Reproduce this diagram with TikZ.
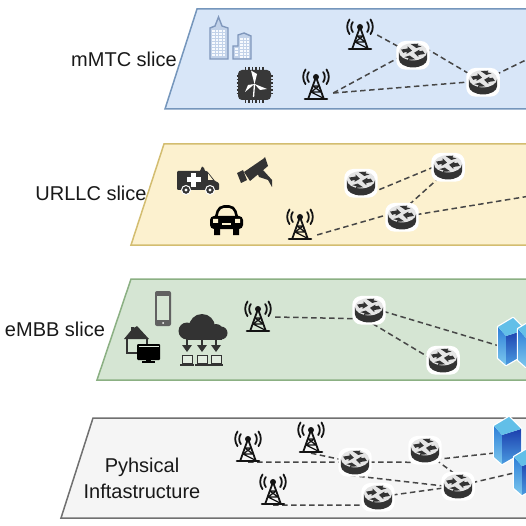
\documentclass[tikz,border=0pt]{standalone}
\usepackage{fontspec}
\setmainfont{Liberation Sans}
\begin{document}
\definecolor{icondark}{HTML}{333333}
\definecolor{steel}{HTML}{7F97BC}
\definecolor{bluebg}{HTML}{D8E6F8}
\definecolor{blueln}{HTML}{7596BC}
\definecolor{yelbg}{HTML}{FCF1CF}
\definecolor{yelln}{HTML}{D3BD70}
\definecolor{grnbg}{HTML}{D5E5D3}
\definecolor{grnln}{HTML}{8BB083}
\definecolor{gryln}{HTML}{707070}
\definecolor{srvA}{HTML}{7CC8EE}
\definecolor{srvB}{HTML}{2F7FD8}
\definecolor{srvC}{HTML}{4A9BE0}
\definecolor{srvD}{HTML}{1C3FAE}
\definecolor{srvE}{HTML}{62BFE8}
\tikzset{
  slab/.style={line width=1.5pt},
  label/.style={font=\fontsize{20}{26}\selectfont,align=center,inner sep=0pt,text=black!90},
  hub/.style={circle,minimum size=28pt,inner sep=0pt},
  mast/.style={rectangle,minimum width=34pt,minimum height=30pt,inner sep=0pt},
  rack/.style={rectangle,minimum width=28pt,minimum height=47pt,inner sep=0pt},
  tie/.style={line width=1.5pt,dash pattern=on 5.5pt off 3.5pt,draw=black!72},
  pics/routerpic/.style={code={
    \begin{scope}[scale=1.08]
    \fill[white,rounded corners=9pt] (-15.5,-13) rectangle (15.5,13.5);
    \fill[icondark] (-13,-3) -- (-13,4) arc[start angle=180,end angle=0,x radius=13,y radius=7.5] -- (13,-3) -- cycle;
    \fill[black!10] (0,-3) ellipse[x radius=13,y radius=8];
    \fill[icondark] (-11,-5) -- (-5,-6) -- (-5,-8) -- (-1,-4) -- (-6,-1) -- (-6,-3) -- (-9,-2) -- cycle;
    \fill[icondark] (11,-1) -- (5,0) -- (5,2) -- (1,-2) -- (6,-5) -- (6,-3.5) -- (9,-4) -- cycle;
    \fill[icondark] (-2,-10) -- (5,-10.5) -- (4,-9) -- (8,-8) -- (3,-6.5) -- (1,-8) -- cycle;
    \fill[icondark] (2,4) -- (-5,4.5) -- (-4,3) -- (-8,2) -- (-3,.5) -- (-1,2) -- cycle;
    \end{scope}
  }},
  pics/towerpic/.style={code={
    \begin{scope}[line width=1.8pt,black!92,line cap=round]
    \draw (0,-8) -- (-7.5,13) (0,-8) -- (7.5,13);
    \draw[line width=1.3pt] (-3,1) -- (3,1) (-5,7) -- (5,7) (-3,1) -- (5,7) (3,1) -- (-5,7) (-5,7) -- (7,13);
    \draw[line width=2.6pt] (-11,14) -- (11,14);
    \fill (0,-8) circle[radius=3];
    \draw (-7.2,-13) arc[start angle=-145,end angle=-215,radius=8.8];
    \draw (7.2,-13) arc[start angle=-35,end angle=35,radius=8.8];
    \draw (-10.5,-15.5) arc[start angle=-145,end angle=-215,radius=12.8];
    \draw (10.5,-15.5) arc[start angle=-35,end angle=35,radius=12.8];
    \end{scope}
  }},
  pics/serverpic/.style={code={
    \fill[white,line join=round,draw=white,line width=2.5pt] (-14,-16) -- (1,-25) -- (13,-13) -- (13,11) -- (-6,22) -- (-14,15) -- cycle;
    \shade[top color=srvB,bottom color=srvA] (-14,-16) -- (-6,-7) -- (-6,22) -- (-14,15) -- cycle;
    \shade[top color=srvD,bottom color=srvC] (-6,-7) -- (13,-13) -- (13,11) -- (-6,22) -- cycle;
    \fill[srvE] (-14,-16) -- (1,-25) -- (13,-13) -- (-6,-7) -- cycle;
  }}
}
\begin{tikzpicture}[x=1pt,y=-1pt]
\clip (0,0) rectangle (526,526);
\fill[white] (0,0) rectangle (526,526);
% slices
\draw[slab,draw=blueln,fill=bluebg] (197,9) -- (540,9) -- (540,109) -- (165,109) -- cycle;
\draw[slab,draw=yelln,fill=yelbg] (164,144) -- (540,144) -- (540,245) -- (131,245) -- cycle;
\draw[slab,draw=grnln,fill=grnbg] (131,279) -- (540,279) -- (540,380) -- (97,380) -- cycle;
\draw[slab,draw=gryln,fill=black!4] (93,418) -- (540,418) -- (540,518) -- (61,518) -- cycle;
% labels
\node[label] (mlab) at (124,59) {mMTC slice};
\node[label] (ulab) at (91,193) {URLLC slice};
\node[label] (elab) at (55,329) {eMBB slice};
\node[label] (plab) at (142,478) {Pyhsical\\Inftastructure};
% network nodes
\node[mast] (mt1) at (360,35) {};
\node[mast] (mt2) at (316,85) {};
\node[hub] (mr1) at (413,55) {};
\node[hub] (mr2) at (483,82) {};
\coordinate (mout) at (530,58);
\node[mast] (ut) at (300,225) {};
\node[hub] (ur1) at (361,183) {};
\node[hub] (ur2) at (448,167) {};
\node[hub] (ur3) at (402,217) {};
\coordinate (uout) at (530,196);
\node[mast] (et) at (258,317) {};
\node[hub] (er1) at (369,310) {};
\node[hub] (er2) at (443,360) {};
\node[rack] (es) at (512,343) {};
\node[mast] (pt1) at (248,447) {};
\node[mast] (pt2) at (311,438) {};
\node[mast] (pt3) at (273,490) {};
\node[hub] (pr1) at (355,462) {};
\node[hub] (pr2) at (425,450) {};
\node[hub] (pr3) at (458,486) {};
\node[hub] (pr4) at (378,497) {};
\node[rack] (ps1) at (508,442) {};
\node[rack] (ps2) at (528,473) {};
% connectors
\draw[tie] (mt1.east) -- (mr1.150);
\draw[tie] (mt2.-25) -- (mr1.190);
\draw[tie] (mt2.-25) -- (mr2.180);
\draw[tie] (mr1.30) -- (mr2);
\draw[tie] (mr2.30) -- (mout);
\draw[tie] (ur1.-45) -- (ur2.180);
\draw[tie] (ut.-30) -- (ur3.170);
\draw[tie] (ur3.60) -- (ur2.230);
\draw[tie] (ur3) -- (uout);
\draw[tie] (et.east) -- (er1.218);
\draw[tie] (er1.-5) -- (es.190);
\draw[tie] (er1.-75) -- (er2.170);
\draw[tie] (pt1.south) -- (pr1.180);
\draw[tie] (pt2.south) -- (pr1.170);
\draw[tie] (pr1) -- (pr2.240);
\draw[tie] (pr2.-42) -- (ps1.218);
\draw[tie] (pr1.-110) -- (pr3.180);
\draw[tie] (pr2.-42) -- (pr3.110);
\draw[tie] (pr3) -- (ps2.180);
\draw[tie] (pt3.south) -- (pr4.215);
\draw[tie] (pr4) -- (pr3);
% icons over connectors
\foreach \n in {mt1,mt2,ut,et,pt1,pt2,pt3} \pic at (\n) {towerpic};
\foreach \n in {mr1,mr2,ur1,ur2,ur3,er1,er2,pr1,pr2,pr3,pr4} \pic at (\n) {routerpic};
\pic at (512,343) {serverpic};
\pic at (532,345) {serverpic};
\pic at (ps1) {serverpic};
\pic at (ps2) {serverpic};
% buildings
\begin{scope}[draw=steel,fill=bluebg!75!steel,line width=1.4pt]
\filldraw (210,59) -- (210,28) -- (215,26) -- (218.5,17) -- (222,26) -- (228,28) -- (228,59) -- cycle;
\filldraw (233,59) -- (233,46) -- (238,46) -- (238,35) -- (244,33) -- (251,36) -- (251,59) -- cycle;
\foreach \y in {31,34,...,57} \draw[white!80!bluebg,line width=1.5pt,dash pattern=on 2.5pt off 1pt] (212,\y) -- (226,\y);
\foreach \y in {39,42,...,57} \draw[white!80!bluebg,line width=1.5pt,dash pattern=on 2.5pt off 1pt] (240,\y) -- (249,\y);
\foreach \y in {49,52,55} \draw[white!80!bluebg,line width=1.5pt,dash pattern=on 2.5pt off 1pt] (235,\y) -- (238,\y);
\end{scope}
% chip
\foreach \t in {-9,-5.5,...,9.5} {
  \draw[icondark,line width=1.1pt] (254.5+\t,67) -- (254.5+\t,103);
  \draw[icondark,line width=1.1pt] (236.5,85+\t) -- (272.5,85+\t);
}
\fill[black!78,rounded corners=4pt] (238,70) rectangle (271,100);
\draw[white,line width=1.3pt] (253.5,97) -- (254.5,84);
\fill[white] (254.5,84) -- (251,70.5) -- (257,74) -- cycle;
\fill[white] (254.5,84) -- (267,89) -- (260,90) -- cycle;
\fill[white] (254.5,84) -- (245,92) -- (248,85) -- cycle;
% ambulance
\fill[icondark,rounded corners=1pt] (177,171) -- (207,171) -- (215,181) -- (219,183) -- (219,190) -- (177,190) -- cycle;
\fill[icondark] (202,166.5) -- (204,168) -- (205,171) -- (200,171) -- cycle;
\fill[yelbg] (208,173.5) -- (208,180) -- (213,180) -- cycle;
\fill[white] (191,173) rectangle (196,187);
\fill[white] (186.5,177.5) rectangle (200.5,182.5);
\filldraw[fill=icondark,draw=white,line width=1pt] (186,190) circle[radius=4.5];
\filldraw[fill=icondark,draw=white,line width=1pt] (210,190) circle[radius=4.5];
\fill[white] (186,190) circle[radius=1.6] (210,190) circle[radius=1.6];
% camera
\fill[icondark] (244,172) -- (263,159) -- (265,157) -- (268,166) -- (250,181) -- cycle;
\fill[icondark] (237,173) -- (243,170) -- (247,180) -- (241,183) -- cycle;
\fill[icondark] (257,172) -- (263,170) -- (272,180) -- (272,187) -- (268,180) -- (259,177) -- cycle;
% car
\draw[black,line width=2.6pt,fill=yelbg,rounded corners=5pt] (215.5,219) -- (219,206.5) -- (234,206.5) -- (237.5,219);
\fill[black,rounded corners=4pt] (210,216) rectangle (243,229);
\fill[black] (214,228) rectangle (220,235) (233,228) rectangle (239,235);
\fill[yelbg] (213,219) rectangle (218,223) (235,219) rectangle (240,223);
\fill[yelbg] (222,223) rectangle (231,225);
% phone
\fill[black!62,rounded corners=2pt] (155,291) rectangle (171,326);
\fill[grnbg] (157,296) rectangle (169,320);
\fill[white] (163,323) circle[radius=1];
% home
\draw[icondark,line width=1.3pt,fill=grnbg] (127,338) -- (127,353) -- (147,353) -- (147,338);
\fill[icondark] (124,339) -- (131,330.5) -- (131,327) -- (134,327) -- (134,328) -- (137,326) -- (149,339) -- cycle;
% monitor
\fill[black,rounded corners=1pt] (137,344) rectangle (160,360);
\fill[grnbg!70!white] (138.5,345.5) rectangle (158.5,347);
\fill[black] (146,358) rectangle (151,362);
\fill[black] (142,361) rectangle (155,362.5);
% cloud
\fill[icondark] (187,331) circle[radius=8.5] (202,327) circle[radius=13] (216,331) circle[radius=7] (221,333) circle[radius=6.5];
\fill[icondark] (186,332) rectangle (222,339.5);
\foreach \x in {187,202,216} {
  \draw[icondark,line width=2.6pt] (\x,337) -- (\x,347);
  \fill[icondark] (\x-5,345) -- (\x+5,345) -- (\x,352) -- cycle;
  \draw[icondark,line width=1pt,fill=grnbg!70!white] (\x-5,355.5) rectangle (\x+5,363);
  \draw[icondark,line width=2pt] (\x-7,364.5) -- (\x+7,364.5);
}
\end{tikzpicture}
\end{document}
